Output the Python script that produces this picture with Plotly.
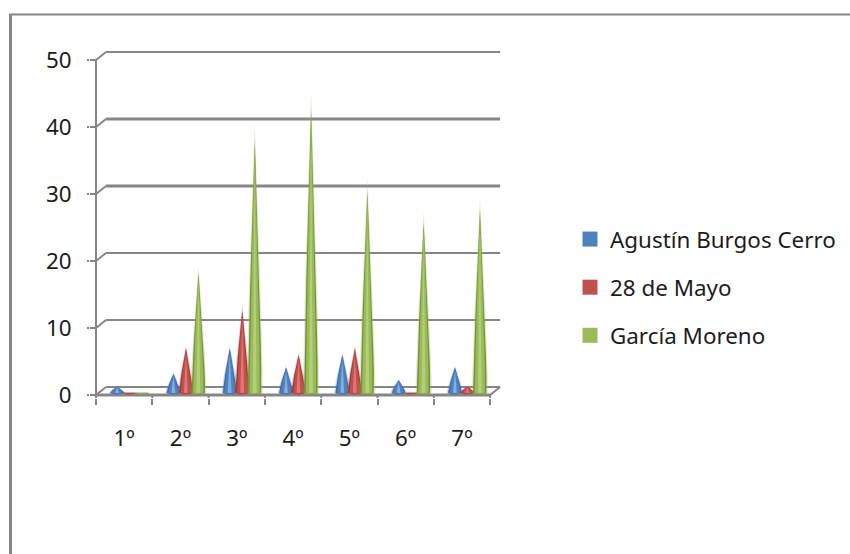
import plotly.graph_objects as go
import numpy as np

categories = ["1º", "2º", "3º", "4º", "5º", "6º", "7º"]
agustin = [1, 3, 7, 4, 6, 2, 4]
mayo = [0, 7, 13, 6, 7, 0, 1]
garcia = [0, 19, 40, 45, 32, 27, 29]
names = ["Agustín Burgos Cerro", "28 de Mayo", "García Moreno"]
y_ticks = [0, 10, 20, 30, 40, 50]

# pixel geometry helpers (scale only)
PXX, PXY = 56.3, 6.7
L, R, T, B = 90, 502, 48, 398
dx, dy = 10 / PXX, 8 / PXY
xr = [(L - 96) / PXX, (R - 96) / PXX]
yr = [(395 - B) / PXY, (395 - T) / PXY]
def px(p): return (p - L) / (R - L)
def py(p): return (B - p) / (B - T)

GREY = "#868686"
FONT = "Noto Sans"
TXT = "#1c1c1c"
FS = 22.4
colors = ["#4F81BD", "#C0504D", "#9BBB59"]
offsets = [-7 / PXX, 5.5 / PXX, 18 / PXX]
layers = [
    [("rgba(79,129,189,0.30)", 1.25, 1.00), ("#3F6EA8", 1.05, .94), ("#4F81BD", .80, .92), ("#86AEE0", .30, .80)],
    [("rgba(192,80,77,0.30)", 1.25, 1.00), ("#9A3D3A", 1.05, .94), ("#C0504D", .80, .92), ("#E57572", .30, .80)],
    [("rgba(155,187,89,0.30)", 1.25, 1.00), ("#76923C", 1.05, .94), ("#9BBB59", .80, .92), ("#B4CF7C", .30, .80)],
]
BASE = 2.3 / PXY
HW = 6.6 / PXX
EL = 1.5 / PXY

def cones(values, off, wf, hf):
    xs, ys = [], []
    h = np.linspace(0, 1, 11)
    prof = 1 - h ** 1.25
    t = np.linspace(0, np.pi, 9)
    for i, v in enumerate(values):
        c = i + .5 + off
        xs += list(c - HW * wf * prof) + list(c + HW * wf * prof[::-1]) + list(c + HW * wf * np.cos(t)) + [None]
        ys += list(BASE + v * hf * h) + list(BASE + v * hf * h[::-1]) + list(BASE - EL * wf * np.sin(t)) + [None]
    return xs, ys

fig = go.Figure()
for s, vals in enumerate([agustin, mayo, garcia]):
    for col, wf, hf in layers[s]:
        x, y = cones(vals, offsets[s], wf, hf)
        fig.add_trace(go.Scatter(x=x, y=y, mode="lines", fill="toself", fillcolor=col,
                                 line=dict(width=0), showlegend=False, hoverinfo="skip"))
for s, n in enumerate(names):
    fig.add_trace(go.Scatter(x=[None], y=[None], mode="markers", name=n, legendgroup=n,
                             marker=dict(symbol="square", size=15, color=colors[s])))

shapes = []
n = len(categories)
line = lambda x0, y0, x1, y1, w=2: dict(type="line", xref="x", yref="y", x0=x0, y0=y0, x1=x1, y1=y1,
                                        line=dict(color=GREY, width=w), layer="below")
widths = [2, 2, 2, 3, 3, 2]
for v, w in zip(y_ticks, widths):
    shapes.append(line(dx, v + dy, n + dx, v + dy, w))
    shapes.append(line(0, v, dx, v + dy, 2))
    shapes.append(line(xr[0], v, 0, v, 2))
for i in range(n + 1):
    shapes.append(line(i, yr[0], i, 0, 2))
shapes.append(line(0, 0, 0, y_ticks[-1], 2))
shapes.append(line(0, 0, n, 0, 3))
shapes.append(line(n, 0, n + dx, dy, 2))
for sh in [(9, 14.5, 850, 14.5, 2), (10.5, 14, 10.5, 554, 3)]:
    shapes.append(dict(type="line", xref="paper", yref="paper", x0=px(sh[0]), y0=py(sh[1]),
                       x1=px(sh[2]), y1=py(sh[3]), line=dict(color=GREY, width=sh[4])))

fig.update_layout(
    width=850, height=554, margin=dict(l=L, r=850 - R, t=T, b=554 - B, autoexpand=False),
    paper_bgcolor="white", plot_bgcolor="white", shapes=shapes,
    font=dict(family=FONT, size=FS, color=TXT),
    legend=dict(x=px(570), y=py(218), xanchor="left", yanchor="top", tracegroupgap=16,
                itemclick=False, font=dict(family=FONT, size=FS, color=TXT), bgcolor="rgba(0,0,0,0)"),
    xaxis=dict(range=xr, showgrid=False, zeroline=False, showline=False,
               tickvals=[i + .5 for i in range(n)], ticktext=categories, ticks="",
               ticklabelstandoff=25, tickfont=dict(size=FS, family=FONT, color=TXT),
               minor=dict(tickvals=list(range(n + 1)), ticks="outside", ticklen=6, tickcolor=GREY, tickwidth=2, showgrid=False)),
    yaxis=dict(range=yr, showgrid=False, zeroline=False, showline=False,
               tickvals=y_ticks, ticks="outside", ticklen=2, tickcolor=GREY, tickwidth=2,
               ticklabelstandoff=11, tickfont=dict(size=FS, family=FONT, color=TXT)),
)
fig.write_html("out.html", config=dict(displayModeBar=False), post_script="document.body.style.margin='0';")
